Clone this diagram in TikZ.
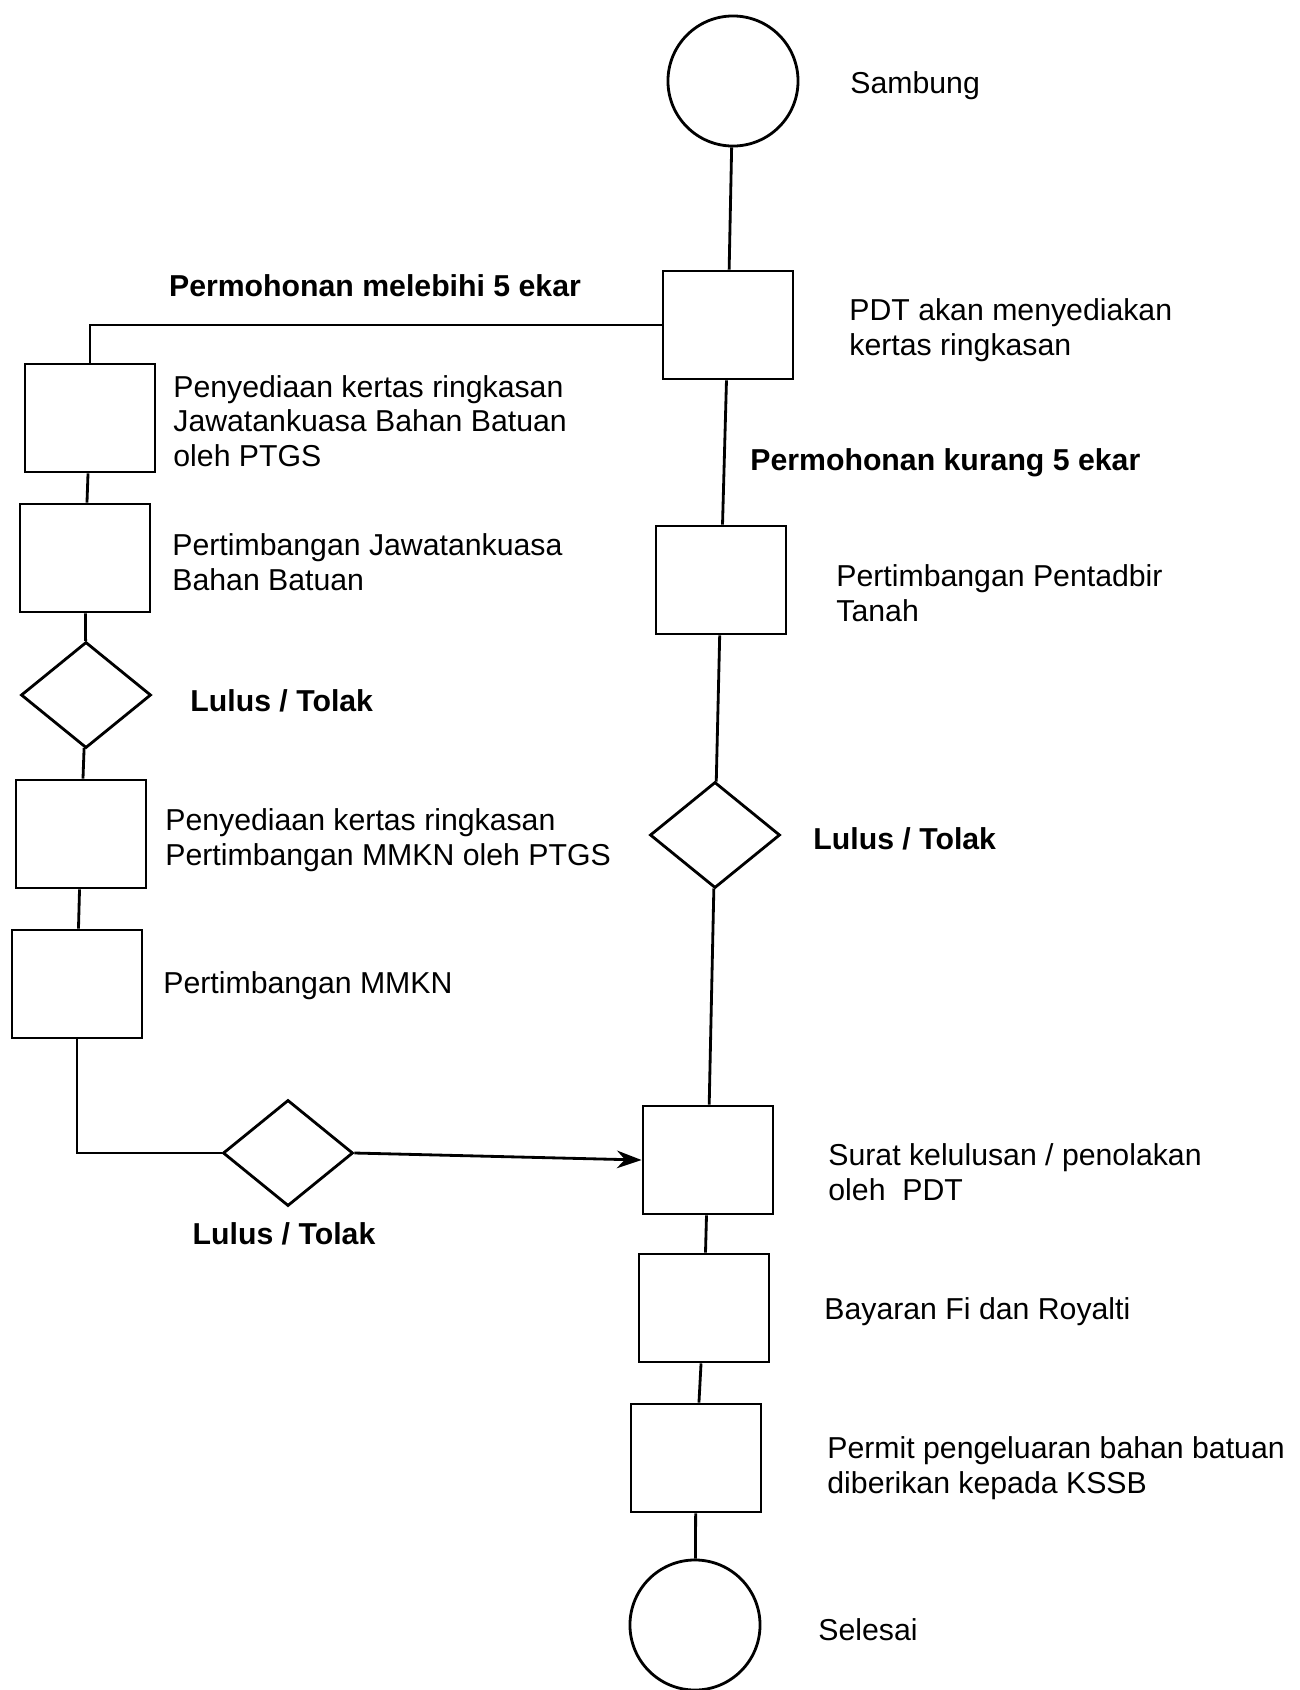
\documentclass[tikz,border=0pt]{standalone}
\usepackage{fontspec}
\setmainfont{Liberation Sans}
\usetikzlibrary{shapes.geometric,arrows.meta}

\begin{document}
\begin{tikzpicture}[x=0.01cm,y=-0.01cm,line width=0.8pt,
  font=\fontsize{8.6}{9.8}\selectfont,
  box/.style={draw,minimum width=1.3cm,minimum height=1.08cm},
  ends/.style={circle,draw,minimum size=1.3cm},
  dec/.style={diamond,draw,minimum width=1.3cm,minimum height=1.06cm,inner sep=0pt},
  lbl/.style={anchor=west,align=left,inner sep=0pt},
  cond/.style={font=\fontsize{8.6}{9.8}\selectfont\bfseries,inner sep=0pt}]
\useasboundingbox (0,0) rectangle (1299,1690);

% main column
\node[ends] (start) at (733,81) {};
\node[box] (pdt) at (728,325) {};
\node[box] (tanah) at (721,580) {};
\node[dec] (dr) at (715,835) {};
\node[box] (surat) at (708,1160) {};
\node[box] (bayar) at (704,1308) {};
\node[box] (permit) at (696,1458) {};
\node[ends] (end) at (695,1625) {};

% left column
\node[box] (k1) at (90,418) {};
\node[box] (k2) at (85,558) {};
\node[dec] (dl) at (86,695) {};
\node[box] (k3) at (81,834) {};
\node[box] (k4) at (77,984) {};
\node[dec] (db) at (288,1153) {};

% labels
\node[lbl] (tstart) at (849,86) {Sambung};
\node[lbl] (tpdt) at (848,330) {PDT akan menyediakan\\kertas ringkasan};
\node[cond] (tlebih) at (375,286) {Permohonan melebihi 5 ekar};
\node[cond,anchor=west] (tkurang) at (749,463) {Permohonan kurang 5 ekar};
\node[lbl] (ttanah) at (835,593) {Pertimbangan Pentadbir\\Tanah};
\node[cond,anchor=west] (tdr) at (812,839) {Lulus / Tolak};
\node[lbl] (tsurat) at (827,1172) {Surat kelulusan / penolakan\\oleh\ \ PDT};
\node[lbl] (tbayar) at (823,1312) {Bayaran Fi dan Royalti};
\node[lbl] (tpermit) at (826,1468) {Permit pengeluaran bahan batuan\\diberikan kepada KSSB};
\node[lbl] (tend) at (817,1630) {Selesai};

\node[lbl] (tk1) at (172,421) {Penyediaan kertas ringkasan\\Jawatankuasa Bahan Batuan\\oleh PTGS};
\node[lbl] (tk2) at (171,562) {Pertimbangan Jawatankuasa\\Bahan Batuan};
\node[cond,anchor=west] (tdl) at (189,701) {Lulus / Tolak};
\node[lbl] (tk3) at (164,840) {Penyediaan kertas ringkasan\\Pertimbangan MMKN oleh PTGS};
\node[lbl] (tk4) at (162,986) {Pertimbangan MMKN};
\node[cond] (tdb) at (284,1234) {Lulus / Tolak};

% connectors
\draw (start) to (pdt);
\draw (pdt) to (tanah);
\draw (tanah) to (dr);
\draw (dr) to (surat);
\draw (surat) to (bayar);
\draw (bayar) to (permit);
\draw (permit) to (end);

\draw (pdt.west) -| (k1.north);
\draw (k1) to (k2);
\draw (k2) to (dl);
\draw (dl) to (k3);
\draw (k3) to (k4);
\draw (k4.south) |- (db.west);
\draw[-{Stealth[length=7pt,width=5pt]}] (db.east) to (surat.west);

\end{tikzpicture}
\end{document}
